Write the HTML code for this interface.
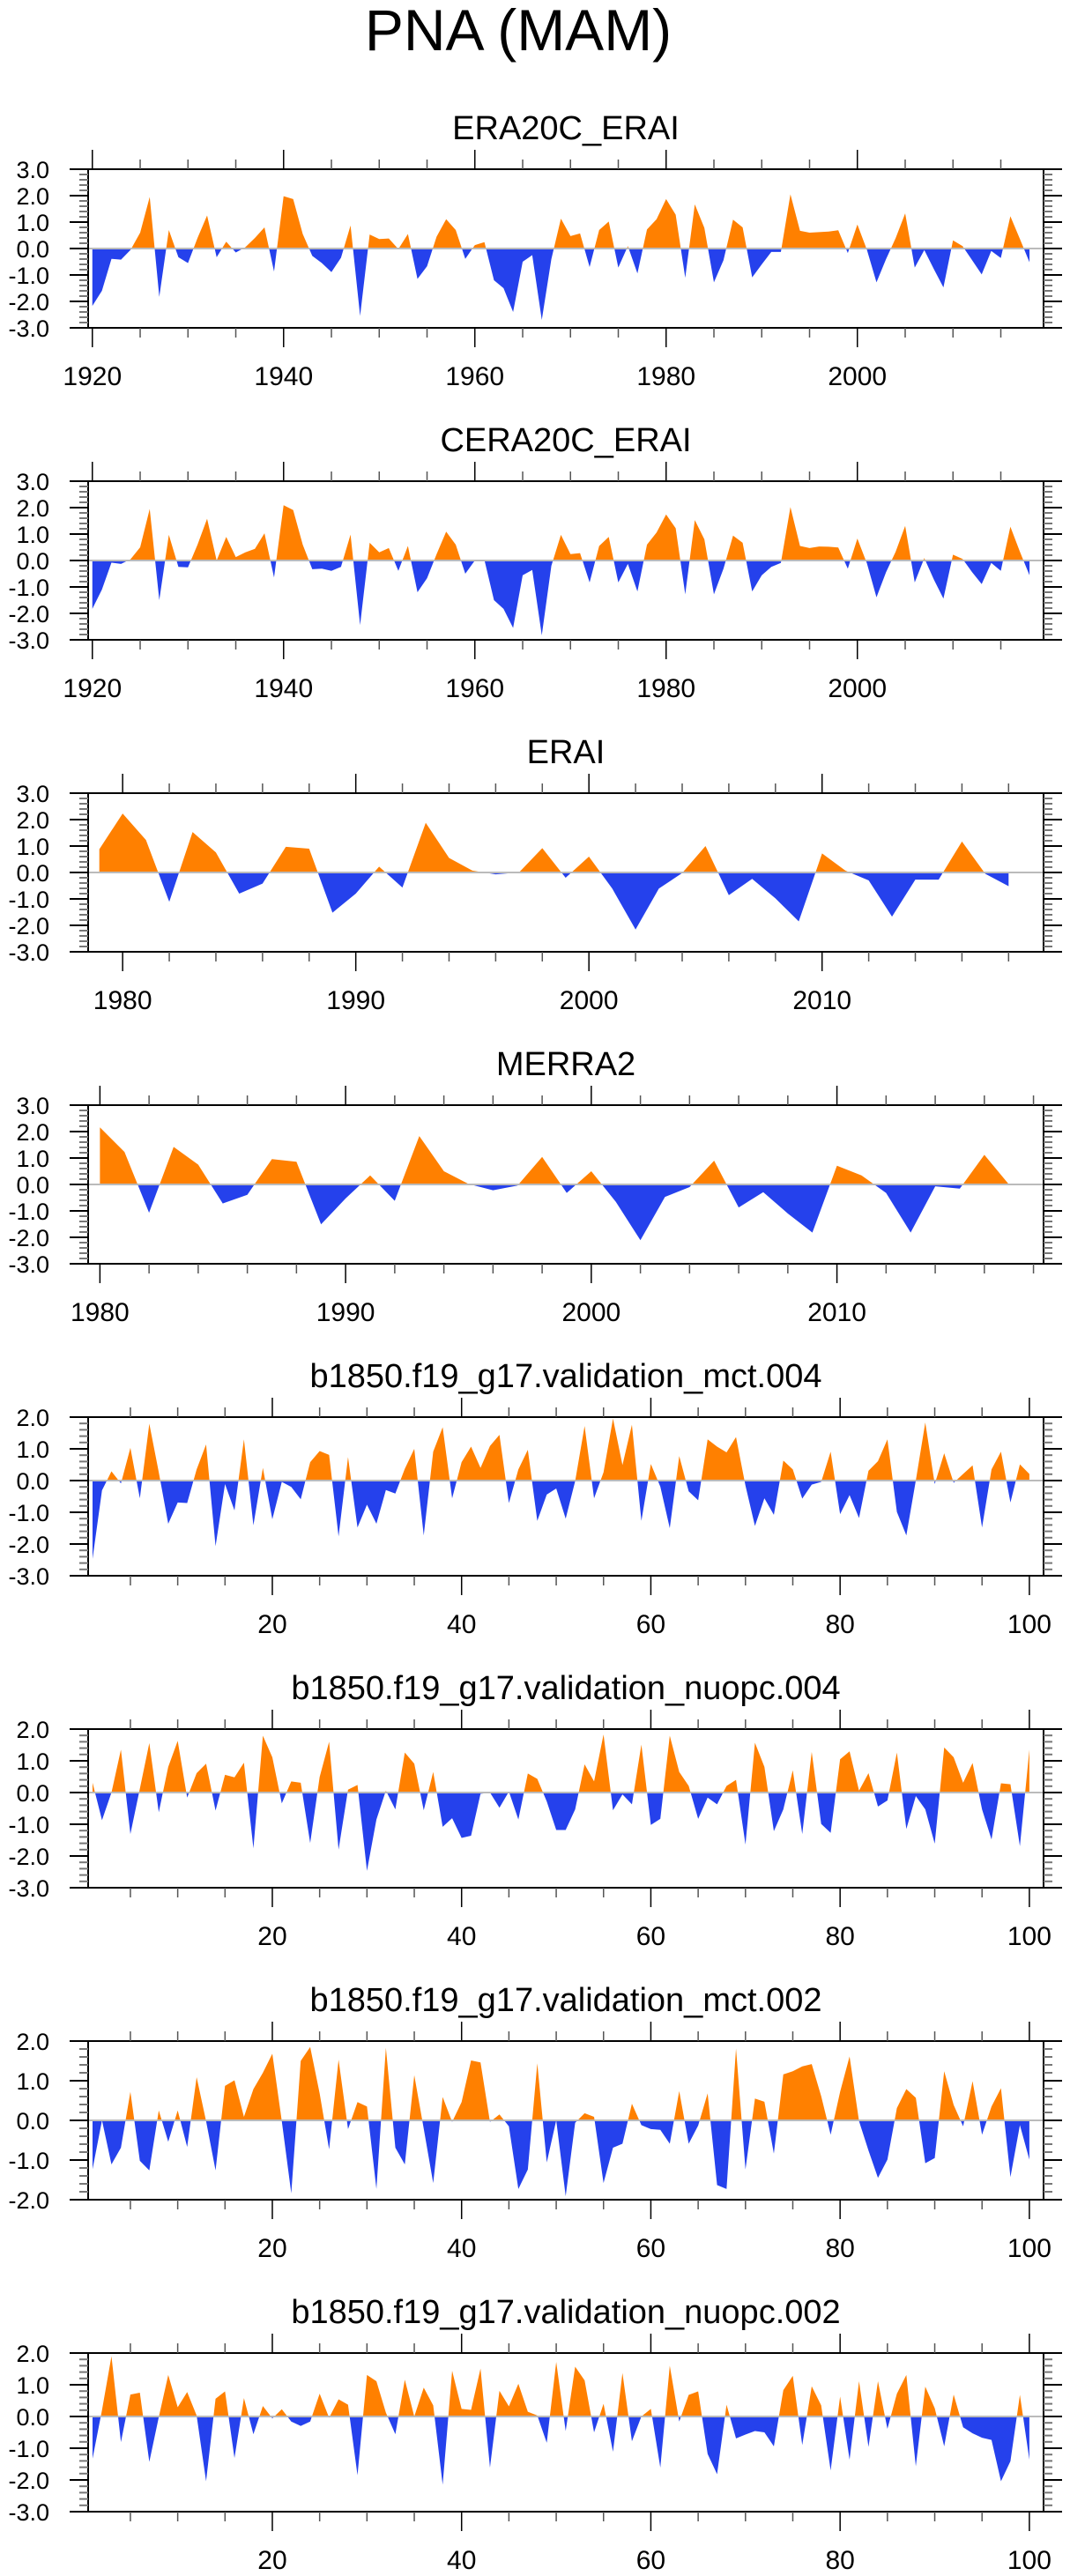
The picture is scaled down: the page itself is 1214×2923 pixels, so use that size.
<!DOCTYPE html>
<html>
<head>
<meta charset="utf-8">
<style>
html,body{margin:0;padding:0;background:#fff;}
svg{display:block;font-family:"Liberation Sans",sans-serif;}
</style>
</head>
<body>
<svg id="chart" width="1214" height="2923" viewBox="0 0 1214 2923" xmlns="http://www.w3.org/2000/svg">
<text x="588" y="57" font-size="66" text-anchor="middle" fill="#000">PNA (MAM)</text>
</svg>
<script>
// ---------- data ----------
const titles = ["ERA20C_ERAI","CERA20C_ERAI","ERAI","MERRA2",
  "b1850.f19_g17.validation_mct.004","b1850.f19_g17.validation_nuopc.004",
  "b1850.f19_g17.validation_mct.002","b1850.f19_g17.validation_nuopc.002"];
const startX = [1920,1920,1979,1980,1,1,1,1];

const era20c = [-2.17,-1.6,-0.39,-0.42,-0.05,0.6,1.95,-1.83,0.7,-0.33,-0.55,0.4,1.25,-0.33,0.26,-0.15,0.05,0.4,0.8,-0.87,
1.98,1.87,0.55,-0.28,-0.55,-0.89,-0.35,0.87,-2.55,0.53,0.36,0.38,-0.02,0.55,-1.15,-0.67,0.45,1.11,0.7,-0.39,
0.13,0.24,-1.2,-1.5,-2.4,-0.5,-0.25,-2.7,-0.4,1.13,0.47,0.57,-0.7,0.7,1.02,-0.72,0.09,-0.94,0.72,1.11,
1.87,1.28,-1.11,1.67,0.78,-1.28,-0.44,1.09,0.8,-1.09,-0.6,-0.13,-0.13,2.05,0.67,0.6,0.62,0.64,0.69,-0.17,
0.91,-0.05,-1.28,-0.4,0.39,1.33,-0.72,-0.06,-0.78,-1.47,0.31,0.09,-0.44,-0.98,-0.09,-0.36,1.22,0.36,-0.52];
const cera20c = [-1.83,-1.1,-0.08,-0.13,0.05,0.5,1.95,-1.5,0.97,-0.24,-0.26,0.6,1.58,0.0,0.89,0.13,0.31,0.44,1.03,-0.64,
2.09,1.91,0.6,-0.33,-0.31,-0.39,-0.24,0.98,-2.44,0.67,0.31,0.47,-0.39,0.55,-1.2,-0.67,0.24,1.09,0.6,-0.5,
0.0,0.02,-1.5,-1.83,-2.55,-0.56,-0.36,-2.83,-0.2,0.97,0.24,0.28,-0.83,0.55,0.89,-0.83,-0.13,-1.17,0.6,1.06,
1.74,1.22,-1.28,1.53,0.8,-1.28,-0.31,0.94,0.67,-1.17,-0.56,-0.24,-0.09,2.02,0.55,0.47,0.53,0.52,0.49,-0.31,
0.83,-0.11,-1.39,-0.44,0.33,1.31,-0.83,0.09,-0.72,-1.44,0.22,0.06,-0.44,-0.89,-0.09,-0.39,1.28,0.33,-0.56];
const erai = [0.88,2.23,1.23,-1.11,1.53,0.76,-0.8,-0.42,0.97,0.9,-1.52,-0.8,0.22,-0.57,1.88,0.55,0.07,-0.07,0.0,0.92,
-0.2,0.6,-0.61,-2.16,-0.61,-0.02,1.0,-0.86,-0.24,-0.98,-1.85,0.72,0.07,-0.3,-1.67,-0.27,-0.27,1.17,-0.05,-0.52];
const merra2 = [2.16,1.23,-1.07,1.42,0.75,-0.72,-0.39,0.96,0.86,-1.51,-0.53,0.34,-0.62,1.83,0.5,0.02,-0.22,-0.04,1.04,-0.32,
0.5,-0.66,-2.11,-0.47,-0.1,0.9,-0.87,-0.29,-1.1,-1.82,0.71,0.34,-0.32,-1.82,-0.07,-0.16,1.12,0.0];
const mct004 = [-2.47,-0.31,0.29,-0.09,1.03,-0.56,1.79,0.26,-1.36,-0.69,-0.71,0.35,1.14,-2.07,-0.11,-0.94,1.3,-1.41,0.4,-1.22,
-0.04,-0.2,-0.59,0.58,0.93,0.81,-1.76,0.74,-1.48,-0.76,-1.36,-0.3,-0.41,0.37,1.0,-1.73,0.91,1.68,-0.56,0.58,
1.07,0.4,1.09,1.44,-0.71,0.35,0.97,-1.27,-0.44,-0.25,-1.2,-0.02,1.72,-0.56,0.26,1.95,0.49,1.76,-1.27,0.52,
-0.19,-1.5,0.77,-0.34,-0.62,1.3,1.07,0.89,1.37,-0.16,-1.43,-0.56,-1.08,0.63,0.35,-0.57,-0.13,-0.04,0.91,-1.06,
-0.46,-1.18,0.31,0.61,1.3,-0.99,-1.73,0.0,1.83,-0.11,0.86,-0.07,0.21,0.48,-1.48,0.35,0.91,-0.69,0.51,0.21];
const nuopc004 = [0.31,-0.87,0.0,1.35,-1.31,0.12,1.56,-0.62,0.81,1.63,-0.16,0.61,0.91,-0.57,0.56,0.48,0.94,-1.76,1.79,1.11,
-0.34,0.35,0.31,-1.59,0.49,1.6,-1.8,0.09,0.24,-2.47,-0.85,0.06,-0.53,1.26,0.91,-0.56,0.65,-1.08,-0.81,-1.43,
-1.36,-0.04,0.0,-0.48,0.03,-0.85,0.6,0.43,-0.28,-1.18,-1.18,-0.53,0.89,0.35,1.83,-0.56,-0.06,-0.37,1.51,-1.02,
-0.83,1.79,0.65,0.21,-0.83,-0.16,-0.37,0.21,0.4,-1.64,1.57,0.81,-1.22,-0.53,0.7,-1.31,1.28,-0.99,-1.27,1.05,
1.3,0.06,0.61,-0.44,-0.25,1.26,-1.15,-0.11,-0.53,-1.61,1.42,1.11,0.31,0.93,-0.53,-1.48,0.29,0.26,-1.69,1.35];
const mct002 = [-1.23,0.0,-1.11,-0.69,0.72,-1.02,-1.26,0.25,-0.54,0.25,-0.67,1.09,-0.02,-1.26,0.87,1.01,0.09,0.79,1.2,1.68,
-0.02,-1.84,1.5,1.85,0.68,-0.73,1.53,-0.22,0.46,0.35,-1.73,1.83,-0.69,-1.11,1.14,-0.21,-1.58,0.59,-0.04,0.46,
1.51,1.46,-0.04,0.15,-0.15,-1.73,-1.24,1.44,-1.06,0.0,-1.91,-0.06,0.18,0.09,-1.58,-0.69,-0.59,0.42,-0.12,-0.22,
-0.24,-0.59,0.74,-0.59,-0.13,0.68,-1.63,-1.73,1.81,-1.24,0.55,0.47,-0.84,1.16,1.24,1.36,1.42,0.61,-0.36,0.72,
1.61,-0.02,-0.76,-1.45,-0.99,0.31,0.79,0.57,-1.08,-0.95,1.24,0.39,-0.15,0.99,-0.36,0.35,0.81,-1.43,-0.12,-0.99];
const nuopc002 = [-1.33,0.2,1.9,-0.81,0.69,0.75,-1.43,-0.02,1.31,0.29,0.77,0.03,-2.04,0.56,0.79,-1.31,0.58,-0.56,0.33,-0.06,
0.23,-0.16,-0.3,-0.16,0.72,-0.04,0.54,0.37,-1.85,1.31,1.11,0.12,-0.56,1.16,0.0,0.91,0.35,-2.15,1.44,0.24,
0.21,1.51,-1.61,0.81,0.32,1.03,0.15,0.03,-0.83,1.72,-0.46,1.57,1.14,-0.5,0.4,-1.11,1.37,-0.78,0.0,0.24,
-1.61,1.6,-0.16,0.68,0.79,-1.18,-1.82,0.37,-0.69,-0.57,-0.46,-0.5,-0.94,0.83,1.28,-0.9,0.95,0.35,-1.7,0.63,
-1.36,1.11,-0.96,1.11,-0.39,0.72,1.31,-1.57,0.94,0.26,-0.94,0.69,-0.34,-0.53,-0.67,-0.74,-2.04,-1.41,0.68,-1.36];
const seriesList = [era20c,cera20c,erai,merra2,mct004,nuopc004,mct002,nuopc002];
const yMins = [-3,-3,-3,-3,-3,-3,-2,-3];
const yMaxs = [3,3,3,3,2,2,2,2];
const xMins = [1919.56,1919.56,1978.52,1979.52,0.535,0.535,0.535,0.535];
const xMaxs = [2019.47,2019.47,2019.5,2018.41,101.5,101.5,101.5,101.5];
const xMajor = [20,20,10,10,20,20,20,20];
const xMinor = [5,5,2,2,5,5,5,5];

// ---------- drawing ----------
const NS = "http://www.w3.org/2000/svg";
const svg = document.getElementById("chart");
const L = 100, R = 1184, H = 180, TOP0 = 192, STEP = 354;
function mk(tag, attrs, parent){
  const e = document.createElementNS(NS, tag);
  for (const k in attrs) e.setAttribute(k, attrs[k]);
  (parent || svg).appendChild(e);
  return e;
}
function fmt(v){ return v.toFixed(1); }

for (let p = 0; p < 8; p++) {
  const top = TOP0 + STEP * p, bot = top + H;
  const xmin = xMins[p], xmax = xMaxs[p], ymin = yMins[p], ymax = yMaxs[p];
  const X = v => L + (v - xmin) / (xmax - xmin) * (R - L);
  const Y = v => bot - (v - ymin) / (ymax - ymin) * H;
  const g = mk("g", {});
  
  

  const t = mk("text", {x: 642, y: top - 34, "font-size": 38, "text-anchor": "middle", fill: "#000"}, g);
  
  
  t.textContent = titles[p];

  // series fills
  const vals = seriesList[p];
  const pts = vals.map((v, i) => [X(startX[p] + i), v]);
  let up = [], dn = [];
  for (let i = 0; i < pts.length; i++) {
    const [x, v] = pts[i];
    if (i > 0) {
      const [x0, v0] = pts[i - 1];
      if ((v0 > 0 && v < 0) || (v0 < 0 && v > 0)) {
        const xc = x0 + (x - x0) * (v0 / (v0 - v));
        up.push([xc, 0]); dn.push([xc, 0]);
      }
    }
    up.push([x, Math.max(v, 0)]);
    dn.push([x, Math.min(v, 0)]);
  }
  const x0 = pts[0][0], x1 = pts[pts.length - 1][0];
  const pathOf = arr => "M" + x0 + "," + Y(0) + " " + arr.map(q => "L" + q[0].toFixed(2) + "," + Y(q[1]).toFixed(2)).join(" ") + " L" + x1 + "," + Y(0) + " Z";
  const pu = mk("path", {d: pathOf(up), fill: "#ff8000"}, g);
  
  
  const pd = mk("path", {d: pathOf(dn), fill: "#2541ec"}, g);
  
  

  const zl = mk("line", {x1: L, x2: R, y1: Y(0), y2: Y(0), stroke: "#bbb", "stroke-width": 2}, g);
  
  

  // frame
  const fr = mk("rect", {x: L, y: top, width: R - L, height: H, fill: "none", stroke: "#000", "stroke-width": 2}, g);
  
  

  // y ticks
  for (let k = Math.round(ymin * 5); k <= Math.round(ymax * 5); k++) {
    const v = k / 5, y = Y(v), major = (k % 5 === 0);
    const len = major ? 21 : 10;
    mk("line", {x1: L - len, x2: L, y1: y, y2: y, stroke: major ? "#000" : "#777", "stroke-width": 2}, g);
    mk("line", {x1: R, x2: R + len, y1: y, y2: y, stroke: major ? "#000" : "#777", "stroke-width": 2}, g);
    if (major) {
      const yl = mk("text", {x: 56, y: y + 10, "font-size": 27, "text-anchor": "end", fill: "#000"}, g);
      
      
      yl.textContent = fmt(v);
    }
  }
  // x ticks
  const mn = xMinor[p], mj = xMajor[p];
  for (let v = Math.ceil(xmin / mn) * mn; v <= xmax; v += mn) {
    const x = X(v), major = (v % mj === 0);
    const len = major ? 22 : 11;
    mk("line", {x1: x, x2: x, y1: top - len, y2: top, stroke: major ? "#000" : "#555", "stroke-width": 1.5}, g);
    mk("line", {x1: x, x2: x, y1: bot, y2: bot + len, stroke: major ? "#000" : "#555", "stroke-width": 1.5}, g);
    if (major) {
      const xl = mk("text", {x: x, y: bot + 65, "font-size": 30, "text-anchor": "middle", fill: "#000"}, g);
      
      
      xl.textContent = String(v);
    }
  }
}
</script>
</body>
</html>
